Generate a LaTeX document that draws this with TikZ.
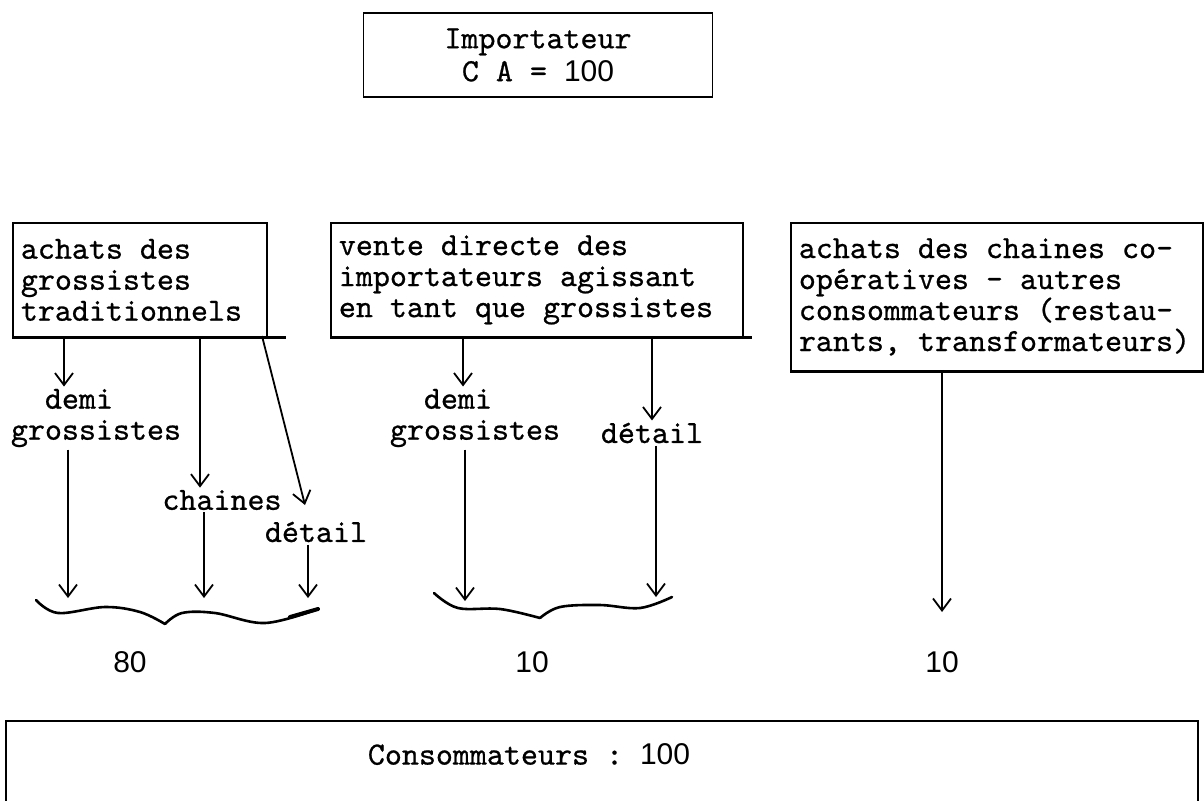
\documentclass[tikz,border=0pt]{standalone}
\usepackage{fontspec}
\newfontfamily\digitfont{Liberation Sans}
% slightly heavier typewriter face
\newfontfamily\typewriter{lmmono10-regular.otf}[FakeBold=0.7]
\usetikzlibrary{arrows.meta}
% typewriter spacing: every space as wide as a character
\newcommand\fixedspaces{\spaceskip=\fontdimen2\font\xspaceskip=\fontdimen2\font\relax}
\newcommand\digits[1]{{\digitfont\fontsize{15}{15}\selectfont #1}}
\begin{document}
\begin{tikzpicture}[x=0.5pt,y=-0.5pt,
  font=\typewriter\fontsize{16.2}{15.5}\selectfont,
  every node/.append style={execute at begin node=\fixedspaces},
  frame/.style={draw, line width=0.9pt, rectangle, anchor=north west,
    align=left, inner xsep=4pt, inner ysep=0pt},
  lbl/.style={inner sep=1pt, align=left},
  flow/.style={line width=0.9pt,
    -{Straight Barb[length=6pt,width=9pt,line width=0.9pt]}},
  rule/.style={line width=1.5pt},
  brace/.style={line width=1.3pt, line cap=round, line join=round},
  num/.style={font=\digitfont\fontsize{15}{16}\selectfont, inner sep=0pt}
]
\useasboundingbox (0,0) rectangle (1204,800);
\clip (0,0) rectangle (1204,800);

% importer
\node[draw, line width=0.9pt, minimum width=174.5pt, minimum height=42pt,
  align=center] (imp) at (538,55)
  {Importateur\\[1pt]C A = \digits{100}};

% three purchase channels
\node[frame, text width=119pt, minimum height=57pt] (b1) at (12,222)
  {achats des\\grossistes\\traditionnels};
\node[frame, text width=198pt, minimum height=57pt] (b2) at (330,222)
  {vente directe des\\importateurs agissant\\en tant que grossistes};
\node[frame, text width=198pt, minimum height=74pt] (b3) at (790,222)
  {achats des chaines co-\\opératives - autres\\consommateurs (restau-\\rants, transformateurs)};

% heavier underlines of the boxes
\draw[rule] (b1.south west) -- ([xshift=9pt]b1.south east);
\draw[rule] (b2.south west) -- ([xshift=4pt]b2.south east);
\draw[rule] (b3.south west) -- (b3.south east);

% intermediate stages
\node[lbl] (dg1) at (96,418) {\hspace*{2\fontdimen2\font}demi\\grossistes};
\node[lbl] (ch1) at (222,500) {chaines};
\node[lbl] (dt1) at (316,532) {détail};
\node[lbl] (dg2) at (475,418) {\hspace*{2\fontdimen2\font}demi\\grossistes};
\node[lbl] (dt2) at (652,433) {détail};

% column positions and arrow ends
\coordinate (x1) at (64,0);
\coordinate (x2) at (200,0);
\coordinate (x3) at (463,0);
\coordinate (x4) at (652,0);
\coordinate (x5) at (942,0);
\coordinate (d1) at (262,336);
\coordinate (d2) at (305,505);
\coordinate (e1) at (68,598);
\coordinate (e2) at (204,598);
\coordinate (e3) at (308,598);
\coordinate (e4) at (465,601);
\coordinate (e5) at (656,597);
\coordinate (e6) at (942,612);

% flows out of the boxes
\draw[flow] (x1 |- b1.south) -- (x1 |- dg1.north);
\draw[flow] (x2 |- b1.south) -- (x2 |- ch1.north);
\draw[flow] (d1) -- (d2);
\draw[flow] (x3 |- b2.south) -- (x3 |- dg2.north);
\draw[flow] (x4 |- b2.south) -- (x4 |- dt2.north);
\draw[flow] (x5 |- b3.south) -- (e6);

% flows towards the consumers
\draw[flow] (e1 |- dg1.south) -- (e1);
\draw[flow] (e2 |- ch1.south) -- (e2);
\draw[flow] (e3 |- dt1.south) -- (e3);
\draw[flow] (e4 |- dg2.south) -- (e4);
\draw[flow] (e5 |- dt2.south) -- (e5);

% hand-drawn braces
\draw[brace] plot[smooth, tension=0.6] coordinates
  {(36,600) (58,613) (105,607) (140,612) (165,624)};
\draw[brace] plot[smooth, tension=0.6] coordinates
  {(165,624) (182,613) (215,613) (265,623) (318,609)};
\draw[brace, line width=2pt] (290,617) -- (318,609);
\draw[brace] plot[smooth, tension=0.6] coordinates
  {(434,593) (458,608) (500,609) (540,618)};
\draw[brace] plot[smooth, tension=0.6] coordinates
  {(540,618) (560,607) (600,605) (640,608) (672,597)};

% shares
\node[num] (n1) at (130,662) {80};
\node[num] (n2) at (532,662) {10};
\node[num] (n3) at (942,662) {10};

% consumers (the box runs on below the lower edge)
\node[draw, line width=0.9pt, anchor=north west, text width=596pt,
  align=left, inner ysep=11pt, inner xsep=0pt] (cons) at (5,720)
  {\strut\hspace*{181pt}Consommateurs : \digits{100}\\[20pt]\strut};
\end{tikzpicture}
\end{document}
